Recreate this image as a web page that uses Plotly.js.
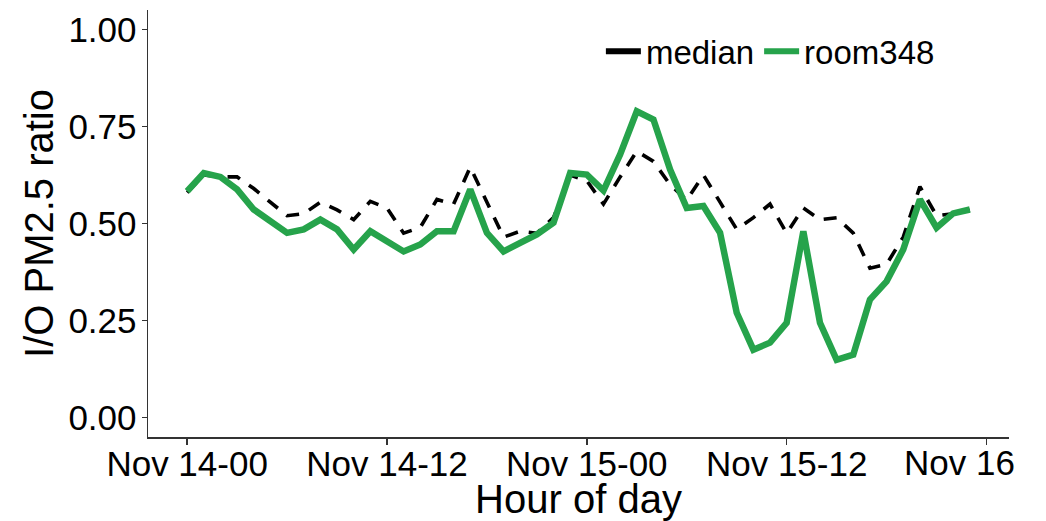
<!DOCTYPE html>
<html>
<head>
<meta charset="utf-8">
<script src="https://cdn.plot.ly/plotly-3.0.1.min.js"></script>
<style>
  html, body { margin: 0; padding: 0; background: #ffffff; }
  #chart { width: 1046px; height: 521px; }
</style>
</head>
<body>
<div id="chart"></div>
<script>
// Hours since Nov 14 00:00
const hours = [0, 1, 2, 3, 4, 5, 6, 7, 8, 9, 10, 11, 12, 13, 14, 15,
               16, 17, 18, 19, 20, 21, 22, 23, 24, 25, 26, 27, 28, 29, 30, 31,
               32, 33, 34, 35, 36, 37, 38, 39, 40, 41, 42, 43, 44, 45, 46, 47];

// Median indoor/outdoor PM2.5 ratio across rooms
const medianRatio = [0.580, 0.625, 0.620, 0.620, 0.590, 0.555, 0.520, 0.525,
                     0.555, 0.535, 0.510, 0.557, 0.540, 0.475, 0.490, 0.562,
                     0.550, 0.645, 0.555, 0.465, 0.480, 0.475, 0.515, 0.625,
                     0.610, 0.550, 0.620, 0.686, 0.660, 0.600, 0.560, 0.625,
                     0.555, 0.485, 0.515, 0.550, 0.475, 0.540, 0.510, 0.515,
                     0.475, 0.385, 0.395, 0.465, 0.595, 0.520, 0.525, 0.534];

// Indoor/outdoor PM2.5 ratio for room 348
const room348Ratio = [0.583, 0.630, 0.620, 0.588, 0.536, 0.506, 0.476, 0.485,
                      0.510, 0.485, 0.433, 0.480, 0.454, 0.428, 0.446, 0.480,
                      0.480, 0.588, 0.476, 0.428, 0.450, 0.472, 0.502, 0.630,
                      0.626, 0.585, 0.678, 0.789, 0.768, 0.639, 0.540, 0.545,
                      0.476, 0.270, 0.175, 0.193, 0.244, 0.480, 0.244, 0.149,
                      0.162, 0.304, 0.351, 0.433, 0.562, 0.489, 0.526, 0.536];

const tickHours = [0, 12, 24, 36, 48];
const tickLabels = ['Nov 14-00', 'Nov 14-12', 'Nov 15-00', 'Nov 15-12', ''];
const lastTickLabel = 'Nov 16';

const yTicks = [0, 0.25, 0.5, 0.75, 1.0];
const yTickLabels = ['0.00', '0.25', '0.50', '0.75', '1.00'];

const seriesNames = ['median', 'room348'];
const GREEN = '#26a34b';
const FONT = 'Liberation Sans, Arial, sans-serif';
const TICK_SIZE = 35;
const TITLE_SIZE = 40;

const traces = [
  {
    x: hours, y: medianRatio, type: 'scatter', mode: 'lines',
    name: seriesNames[0], showlegend: false,
    line: { color: '#000000', width: 3.6, dash: '13px,11px' },
    hoverinfo: 'x+y'
  },
  {
    x: hours, y: room348Ratio, type: 'scatter', mode: 'lines',
    name: seriesNames[1], showlegend: false,
    line: { color: GREEN, width: 6.5 },
    hoverinfo: 'x+y'
  },
  // legend keys use solid strokes
  {
    x: [null], y: [null], type: 'scatter', mode: 'lines',
    name: seriesNames[0], line: { color: '#000000', width: 6 }
  },
  {
    x: [null], y: [null], type: 'scatter', mode: 'lines',
    name: seriesNames[1], line: { color: GREEN, width: 6 }
  }
];

const layout = {
  width: 1046, height: 521,
  margin: { l: 148, r: 37, t: 10, b: 84 },
  paper_bgcolor: '#ffffff', plot_bgcolor: '#ffffff',
  font: { family: FONT, size: TICK_SIZE, color: '#000000' },
  showlegend: true,
  legend: {
    orientation: 'h', x: 0.526, y: 0.969, xanchor: 'left', yanchor: 'top',
    font: { family: FONT, size: 33, color: '#000000' },
    bgcolor: 'rgba(0,0,0,0)', itemwidth: 35
  },
  xaxis: {
    range: [-2.35, 49.35],
    tickmode: 'array', tickvals: tickHours, ticktext: tickLabels,
    showgrid: false, zeroline: false,
    showline: true, linecolor: '#333333', linewidth: 1.5,
    ticks: 'outside', ticklen: 6, tickwidth: 1.5, tickcolor: '#333333',
    ticklabelstandoff: -11,
    tickfont: { family: FONT, size: TICK_SIZE, color: '#000000' },
    title: { text: 'Hour of day', font: { family: FONT, size: TITLE_SIZE, color: '#000000' }, standoff: 3 },
    automargin: false
  },
  yaxis: {
    range: [-0.05, 1.05],
    tickmode: 'array', tickvals: yTicks, ticktext: yTickLabels,
    showgrid: false, zeroline: false,
    showline: true, linecolor: '#333333', linewidth: 1.5,
    ticks: 'outside', ticklen: 5, tickwidth: 1.5, tickcolor: '#333333',
    ticklabelstandoff: -2,
    tickfont: { family: FONT, size: TICK_SIZE, color: '#000000' },
    title: { text: 'I/O PM2.5 ratio', font: { family: FONT, size: TITLE_SIZE, color: '#000000' }, standoff: 2 },
    automargin: false
  },
  annotations: [
    {
      x: 48, y: 0, xref: 'x', yref: 'paper',
      xanchor: 'left', yanchor: 'top', xshift: -85, yshift: -4,
      text: lastTickLabel, showarrow: false,
      font: { family: FONT, size: TICK_SIZE, color: '#000000' }
    }
  ]
};

Plotly.newPlot('chart', traces, layout, { displayModeBar: false, staticPlot: true });
</script>
</body>
</html>
